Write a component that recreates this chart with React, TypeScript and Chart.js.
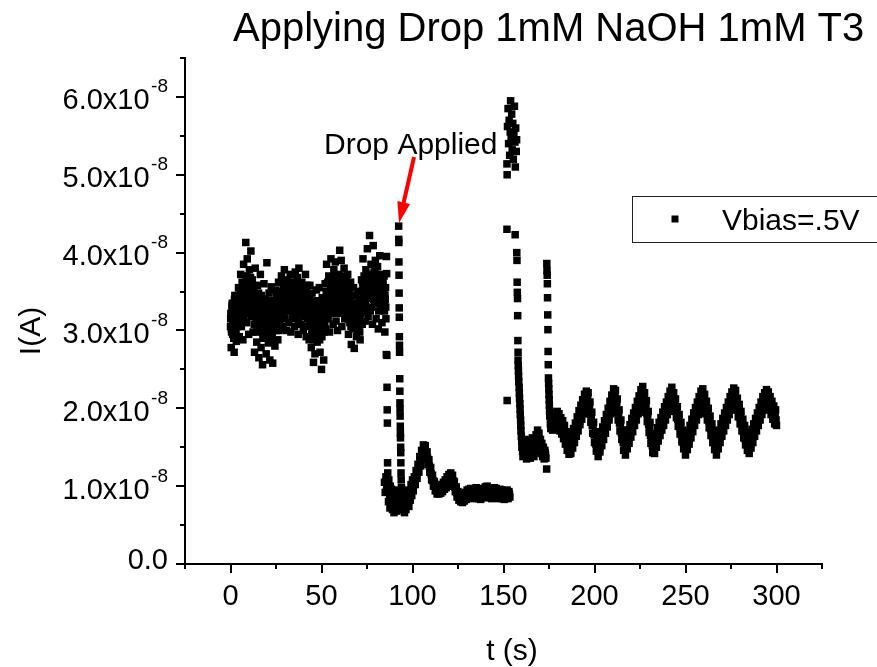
import React, { useEffect, useRef } from 'react';
import { Chart, registerables } from 'chart.js';

Chart.register(...registerables);

const TITLE = 'Applying Drop 1mM NaOH 1mM T3';
const X_TITLE = 't (s)';
const Y_TITLE = 'I(A)';
const LEGEND_LABEL = 'Vbias=.5V';
const ANNOTATION = 'Drop Applied';
const UNIT = 1e-8; // current values below are in units of 1e-8 A
const EXPONENT = '-8';
const FONT = '"Liberation Sans", Arial, Helvetica, sans-serif';

const xMajorTicks = [0, 50, 100, 150, 200, 250, 300];
const xMinorTicks = [-25, 25, 75, 125, 175, 225, 275, 325];
const yMajorTicks = [0, 1, 2, 3, 4, 5, 6];
const yMinorTicks = [0.5, 1.5, 2.5, 3.5, 4.5, 5.5, 6.5];

// [t (s), I (1e-8 A)]
const baseline: [number, number][] = [
  [0.0,3.05],[0.4,2.78],[0.8,3.32],[1.2,2.95],[1.6,3.18],[2.0,2.72],[2.4,3.45],[2.8,3.01],[3.2,2.86],[3.6,3.28],
  [4.0,3.12],[4.4,3.55],[4.8,2.92],[5.2,3.38],[5.6,3.72],[6.0,3.05],[6.4,3.62],[6.8,2.88],[7.2,3.85],[7.6,3.24],
  [8.0,3.48],[8.4,4.13],[8.8,3.10],[9.2,3.92],[9.6,3.33],[10.0,2.95],[10.4,3.78],[10.8,3.55],[11.2,4.02],[11.6,3.18],
  [12.0,3.65],[12.4,2.98],[12.8,3.42],[13.2,2.72],[13.6,3.80],[14.0,3.15],[14.4,2.85],[14.8,3.58],[15.2,3.30],[15.6,2.65],
  [16.0,3.05],[16.4,3.72],[16.8,2.78],[17.2,3.40],[17.6,2.56],[18.0,3.22],[18.4,3.60],[18.8,2.92],[19.2,3.35],[19.6,2.70],
  [20.0,3.87],[20.4,3.10],[20.8,2.84],[21.2,3.48],[21.6,2.62],[22.0,3.25],[22.4,3.56],[22.8,2.95],[23.2,2.58],[23.6,3.38],
  [24.0,3.15],[24.4,2.80],[24.8,3.52],[25.2,3.00],[25.6,3.30],[26.0,2.88],[26.4,3.62],[26.8,3.12],[27.2,3.45],[27.6,3.02],
  [28.0,3.70],[28.4,3.25],[28.8,3.05],[29.2,3.55],[29.6,3.78],[30.0,3.15],[30.4,3.42],[30.8,3.00],[31.2,3.65],[31.6,3.30],
  [32.0,3.10],[32.4,3.58],[32.8,3.72],[33.2,2.98],[33.6,3.35],[34.0,3.62],[34.4,3.20],[34.8,3.48],[35.2,3.05],[35.6,3.75],
  [36.0,3.40],[36.4,3.18],[36.8,3.68],[37.2,2.95],[37.6,3.80],[38.0,3.28],[38.4,3.52],[38.8,3.08],[39.2,3.62],[39.6,3.35],
  [40.0,3.00],[40.4,3.55],[40.8,3.25],[41.2,3.72],[41.6,2.92],[42.0,3.45],[42.4,3.15],[42.8,3.38],[43.2,2.88],[43.6,3.58],
  [44.0,3.22],[44.4,2.78],[44.8,3.48],[45.2,3.05],[45.6,2.59],[46.0,3.35],[46.4,2.70],[46.8,3.12],[47.2,3.52],[47.6,2.85],
  [48.0,3.30],[48.4,2.95],[48.8,3.55],[49.2,2.72],[49.6,3.18],[50.0,2.50],[50.4,3.42],[50.8,3.05],[51.2,2.62],[51.6,3.25],
  [52.0,3.60],[52.4,3.02],[52.8,3.85],[53.2,3.30],[53.6,3.15],[54.0,3.70],[54.4,2.98],[54.8,3.48],[55.2,3.92],[55.6,3.22],
  [56.0,3.55],[56.4,3.08],[56.8,3.78],[57.2,3.35],[57.6,3.88],[58.0,3.12],[58.4,3.62],[58.8,3.00],[59.2,3.45],[59.6,3.72],
  [60.0,4.03],[60.4,3.25],[60.8,3.90],[61.2,3.05],[61.6,3.58],[62.0,3.38],[62.4,3.80],[62.8,3.15],[63.2,3.50],[63.6,3.68],
  [64.0,3.20],[64.4,3.72],[64.8,2.95],[65.2,3.48],[65.6,3.10],[66.0,3.62],[66.4,2.82],[66.8,3.35],[67.2,3.02],[67.6,3.55],
  [68.0,2.77],[68.4,3.28],[68.8,3.45],[69.2,2.92],[69.6,3.15],[70.0,3.50],[70.4,3.00],[70.8,3.38],[71.2,2.88],[71.6,3.22],
  [72.0,3.65],[72.4,3.08],[72.8,3.92],[73.2,3.30],[73.6,3.55],[74.0,3.12],[74.4,3.78],[74.8,3.42],[75.2,4.05],[75.6,3.18],
  [76.0,3.62],[76.4,4.22],[76.8,3.25],[77.2,3.85],[77.6,3.48],[78.0,3.08],[78.4,4.09],[78.8,3.70],[79.2,3.35],[79.6,3.90],
  [80.0,3.15],[80.4,3.58],[80.8,3.82],[81.2,3.02],[81.6,3.45],[82.0,3.96],[82.4,3.28],[82.8,3.68],[83.2,3.10],[83.6,3.52],
  [84.0,3.38],[84.4,3.70],[84.8,2.98],[85.2,3.55],[85.6,2.69],
];

const baselineFill: [number, number][] = [
  [0.2,3.22],[0.6,2.98],[1.0,3.35],[1.4,3.10],[1.8,2.90],[2.2,3.40],[2.6,3.15],[3.0,2.95],[3.4,3.30],[3.8,3.05],
  [4.2,3.45],[4.6,3.18],[5.0,3.28],[5.4,3.50],[5.8,3.10],[6.2,3.40],[6.6,3.25],[7.0,3.55],[7.4,3.15],[7.8,3.42],
  [8.2,3.62],[8.6,3.30],[9.0,3.70],[9.4,3.40],[9.8,3.58],[10.2,3.22],[10.6,3.48],[11.0,3.68],[11.4,3.35],[11.8,3.52],
  [12.2,3.30],[12.6,3.52],[13.0,3.08],[13.4,3.25],[13.8,3.45],[14.2,2.98],[14.6,3.35],[15.0,3.12],[15.4,3.48],[15.8,3.02],
  [16.2,3.28],[16.6,3.00],[17.0,3.45],[17.4,3.12],[17.8,2.90],[18.2,3.30],[18.6,3.05],[19.0,3.40],[19.4,3.18],[19.8,2.95],
  [20.2,3.30],[20.6,2.98],[21.0,3.20],[21.4,3.38],[21.8,3.05],[22.2,2.88],[22.6,3.28],[23.0,3.12],[23.4,3.00],[23.8,3.22],
  [24.2,3.35],[24.6,3.08],[25.0,3.22],[25.4,3.45],[25.8,3.12],[26.2,3.38],[26.6,3.00],[27.0,3.28],[27.4,3.18],[27.8,3.40],
  [28.2,3.48],[28.6,3.32],[29.0,3.58],[29.4,3.20],[29.8,3.45],[30.2,3.62],[30.6,3.28],[31.0,3.52],[31.4,3.38],[31.8,3.50],
  [32.2,3.42],[32.6,3.25],[33.0,3.50],[33.4,3.30],[33.8,3.55],[34.2,3.15],[34.6,3.40],[35.0,3.62],[35.4,3.28],[35.8,3.45],
  [36.2,3.55],[36.6,3.25],[37.0,3.45],[37.4,3.10],[37.8,3.38],[38.2,3.60],[38.6,3.20],[39.0,3.42],[39.4,3.30],[39.8,3.50],
  [40.2,3.40],[40.6,3.18],[41.0,3.48],[41.4,3.05],[41.8,3.35],[42.2,3.58],[42.6,3.22],[43.0,3.45],[43.4,3.10],[43.8,3.32],
  [44.2,3.35],[44.6,2.95],[45.0,3.18],[45.4,3.28],[45.8,2.88],[46.2,3.12],[46.6,3.38],[47.0,2.98],[47.4,3.20],[47.8,3.05],
  [48.2,3.15],[48.6,3.38],[49.0,2.88],[49.4,3.05],[49.8,3.28],[50.2,2.92],[50.6,3.20],[51.0,3.35],[51.4,2.98],[51.8,3.10],
  [52.2,3.25],[52.6,3.50],[53.0,3.38],[53.4,3.62],[53.8,3.20],[54.2,3.45],[54.6,3.28],[55.0,3.58],[55.4,3.35],[55.8,3.48],
  [56.2,3.38],[56.6,3.62],[57.0,3.25],[57.4,3.50],[57.8,3.70],[58.2,3.32],[58.6,3.48],[59.0,3.22],[59.4,3.58],[59.8,3.40],
  [60.2,3.62],[60.6,3.42],[61.0,3.70],[61.4,3.28],[61.8,3.48],[62.2,3.65],[62.6,3.35],[63.0,3.55],[63.4,3.25],[63.8,3.45],
  [64.2,3.40],[64.6,3.15],[65.0,3.55],[65.4,3.28],[65.8,3.38],[66.2,3.05],[66.6,3.45],[67.0,3.22],[67.4,3.30],[67.8,3.12],
  [68.2,3.05],[68.6,3.22],[69.0,3.10],[69.4,3.35],[69.8,3.00],[70.2,3.25],[70.6,3.15],[71.0,2.98],[71.4,3.30],[71.8,3.08],
  [72.2,3.40],[72.6,3.62],[73.0,3.28],[73.4,3.70],[73.8,3.45],[74.2,3.35],[74.6,3.58],[75.0,3.25],[75.4,3.50],[75.8,3.65],
  [76.2,3.45],[76.6,3.72],[77.0,3.58],[77.4,3.30],[77.8,3.68],[78.2,3.50],[78.6,3.40],[79.0,3.62],[79.4,3.80],[79.8,3.52],
  [80.2,3.62],[80.6,3.35],[81.0,3.48],[81.4,3.25],[81.8,3.58],[82.2,3.40],[82.6,3.70],[83.0,3.30],[83.4,3.45],[83.8,3.62],
  [84.2,3.48],[84.6,3.25],[85.0,3.40],[85.4,3.15],
];

const baselineCore: [number, number][] = [
  [0.1,3.15],[0.5,3.02],[0.9,3.28],[1.3,3.10],[1.7,3.22],[2.1,2.98],[2.5,3.18],[2.9,3.30],[3.3,3.05],[3.7,3.20],
  [4.1,3.12],[4.5,3.30],[4.9,3.22],[5.3,3.08],[5.7,3.35],[6.1,3.20],[6.5,3.42],[6.9,3.28],[7.3,3.15],[7.7,3.45],
  [8.1,3.55],[8.5,3.38],[8.9,3.60],[9.3,3.45],[9.7,3.30],[10.1,3.52],[10.5,3.65],[10.9,3.40],[11.3,3.58],[11.7,3.35],
  [12.1,3.48],[12.5,3.30],[12.9,3.55],[13.3,3.38],[13.7,3.25],[14.1,3.45],[14.5,3.20],[14.9,3.40],[15.3,3.15],[15.7,3.32],
  [16.1,3.20],[16.5,3.05],[16.9,3.30],[17.3,2.98],[17.7,3.18],[18.1,3.08],[18.5,3.25],[18.9,3.00],[19.3,3.12],[19.7,3.22],
  [20.1,3.05],[20.5,3.20],[20.9,2.95],[21.3,3.15],[21.7,3.00],[22.1,3.22],[22.5,3.08],[22.9,2.98],[23.3,3.18],[23.7,3.10],
  [24.1,3.12],[24.5,3.25],[24.9,3.05],[25.3,3.18],[25.7,3.30],[26.1,3.08],[26.5,3.22],[26.9,3.35],[27.3,3.15],[27.7,3.28],
  [28.1,3.35],[28.5,3.50],[28.9,3.28],[29.3,3.42],[29.7,3.55],[30.1,3.30],[30.5,3.48],[30.9,3.38],[31.3,3.58],[31.7,3.32],
  [32.1,3.45],[32.5,3.30],[32.9,3.52],[33.3,3.38],[33.7,3.25],[34.1,3.48],[34.5,3.35],[34.9,3.55],[35.3,3.42],[35.7,3.28],
  [36.1,3.50],[36.5,3.32],[36.9,3.45],[37.3,3.58],[37.7,3.28],[38.1,3.40],[38.5,3.52],[38.9,3.35],[39.3,3.48],[39.7,3.25],
  [40.1,3.28],[40.5,3.42],[40.9,3.20],[41.3,3.38],[41.7,3.50],[42.1,3.25],[42.5,3.35],[42.9,3.18],[43.3,3.45],[43.7,3.30],
  [44.1,3.10],[44.5,3.25],[44.9,3.00],[45.3,3.18],[45.7,3.08],[46.1,3.28],[46.5,2.98],[46.9,3.15],[47.3,3.05],[47.7,3.22],
  [48.1,3.20],[48.5,3.02],[48.9,3.15],[49.3,3.25],[49.7,2.95],[50.1,3.10],[50.5,3.22],[50.9,3.05],[51.3,3.18],[51.7,3.28],
  [52.1,3.30],[52.5,3.42],[52.9,3.18],[53.3,3.35],[53.7,3.50],[54.1,3.28],[54.5,3.45],[54.9,3.38],[55.3,3.55],[55.7,3.40],
  [56.1,3.48],[56.5,3.60],[56.9,3.42],[57.3,3.55],[57.7,3.35],[58.1,3.62],[58.5,3.45],[58.9,3.58],[59.3,3.38],[59.7,3.52],
  [60.1,3.55],[60.5,3.40],[60.9,3.62],[61.3,3.48],[61.7,3.35],[62.1,3.58],[62.5,3.45],[62.9,3.65],[63.3,3.40],[63.7,3.52],
  [64.1,3.42],[64.5,3.30],[64.9,3.48],[65.3,3.25],[65.7,3.38],[66.1,3.20],[66.5,3.32],[66.9,3.15],[67.3,3.28],[67.7,3.10],
  [68.1,3.18],[68.5,3.08],[68.9,3.28],[69.3,3.12],[69.7,3.22],[70.1,3.05],[70.5,3.30],[70.9,3.15],[71.3,3.25],[71.7,3.35],
  [72.1,3.38],[72.5,3.52],[72.9,3.45],[73.3,3.60],[73.7,3.40],[74.1,3.55],[74.5,3.48],[74.9,3.65],[75.3,3.42],[75.7,3.58],
  [76.1,3.62],[76.5,3.48],[76.9,3.70],[77.3,3.55],[77.7,3.42],[78.1,3.65],[78.5,3.58],[78.9,3.75],[79.3,3.50],[79.7,3.68],
  [80.1,3.55],[80.5,3.42],[80.9,3.65],[81.3,3.50],[81.7,3.38],[82.1,3.60],[82.5,3.48],[82.9,3.72],[83.3,3.45],[83.7,3.58],
  [84.1,3.50],[84.5,3.35],[84.9,3.45],[85.3,3.30],
];

const dropFirstFall: [number, number][] = [
  [85.7,3.95],[85.8,3.73],[85.9,2.68],[86.0,2.27],[86.1,1.98],[86.2,1.81],[86.3,1.30],[86.4,1.17],
];

const dropFloor: [number, number][] = [
  [84.6,1.05],[85.0,0.92],[85.4,1.12],[86.6,0.98],[87.0,1.08],[87.4,0.85],[87.8,1.00],[88.2,0.76],[88.6,0.92],
  [89.0,0.70],[89.4,0.86],[89.8,0.66],[90.2,0.82],[90.6,0.72],[91.0,0.95],[91.4,0.68],[91.8,0.84],
  [85.8,1.00],[86.8,0.80],[87.2,0.95],[87.6,0.72],[88.0,0.88],[88.4,0.96],[88.8,0.80],[89.2,0.92],[89.6,0.78],
  [90.0,0.74],[90.4,0.90],[90.8,0.80],[91.2,0.76],[91.6,0.90],[92.0,0.75],[92.2,0.86],
];

const dropSpike: [number, number][] = [
  [92.4,4.34],[92.45,4.17],[92.5,4.13],[92.55,3.88],[92.6,3.71],[92.65,3.48],[92.7,3.29],[92.75,3.17],[92.8,2.92],
  [92.85,2.81],[92.9,2.72],[93.0,2.38],[93.05,2.22],[93.1,2.07],[93.15,1.99],[93.2,1.90],[93.3,1.77],[93.35,1.68],
  [93.4,1.62],[93.5,1.50],[93.55,1.43],[93.6,1.30],[93.7,1.17],[93.8,1.08],[93.9,0.98],[94.0,0.88],[94.1,0.78],[94.2,0.70],
];

const dropRecovery: [number, number][] = [
  [94.4,0.95],[94.8,0.72],[95.2,0.88],[95.6,0.66],[96.0,0.80],[96.4,0.70],[96.8,0.92],[97.2,0.76],[97.6,0.86],[98.0,0.74],
  [98.4,0.95],[98.8,0.82],[99.2,1.02],[99.6,0.88],[100.0,1.08],[100.4,0.94],
  [101.0,1.12],[101.5,1.02],[102.0,1.20],[102.5,1.10],[103.0,1.28],[103.5,1.18],[104.0,1.38],[104.5,1.26],[105.0,1.46],[105.5,1.35],
  [106.0,1.53],[106.5,1.40],[107.0,1.52],[107.5,1.36],[108.0,1.44],[108.5,1.28],[109.0,1.34],[109.5,1.18],[110.0,1.24],[110.5,1.08],
  [111.0,1.14],[111.5,1.00],[112.0,1.06],[112.5,0.94],[113.0,1.02],[113.5,0.90],[114.0,0.99],[114.5,0.90],[115.0,1.00],[115.5,0.91],
  [116.0,1.02],[116.5,0.93],[117.0,1.05],[117.5,0.96],[118.0,1.08],[118.5,0.98],[119.0,1.12],[119.5,1.00],[120.0,1.15],[120.5,1.03],
  [121.0,1.17],[121.5,1.05],[122.0,1.14],[122.5,1.00],[123.0,1.06],[123.5,0.93],[124.0,0.99],[124.5,0.86],[125.0,0.93],[125.5,0.82],
  [126.0,0.90],[126.5,0.80],[127.0,0.88],[127.5,0.79],[128.0,0.89],[128.5,0.81],[129.0,0.92],[129.5,0.83],[130.0,0.95],[130.5,0.85],
  [131.0,0.96],[131.5,0.86],[132.0,0.97],[132.5,0.85],[133.0,0.95],[133.5,0.84],[134.0,0.96],[134.5,0.87],[135.0,0.98],[135.5,0.86],
  [136.0,0.94],[136.5,0.84],[137.0,0.92],[137.5,0.83],[138.0,0.95],[138.5,0.85],[139.0,0.97],[139.5,0.87],[140.0,0.99],[140.5,0.88],
  [141.0,1.00],[141.5,0.88],[142.0,0.96],[142.5,0.85],[143.0,0.93],[143.5,0.84],[144.0,0.95],[144.5,0.86],[145.0,0.98],[145.5,0.87],
  [146.0,0.97],[146.5,0.85],[147.0,0.94],[147.5,0.84],[148.0,0.96],[148.5,0.86],[149.0,0.95],[149.5,0.84],[150.0,0.93],[150.5,0.83],
  [151.0,0.94],[151.5,0.85],[152.0,0.95],[152.5,0.84],[153.0,0.93],[153.5,0.86],
];

const recoveryFill: [number, number][] = [
  [94.6,0.82],[95.0,0.78],[95.4,0.74],[95.8,0.72],[96.2,0.76],[96.6,0.80],[97.0,0.82],[97.4,0.84],[97.8,0.80],[98.2,0.85],
  [98.6,0.88],[99.0,0.90],[99.4,0.95],[99.8,0.98],[100.2,1.00],[100.7,1.05],
  [101.25,1.07],[101.75,1.11],[102.25,1.15],[102.75,1.19],[103.25,1.23],[103.75,1.28],[104.25,1.32],[104.75,1.36],[105.25,1.40],[105.75,1.44],
  [106.25,1.47],[106.75,1.46],[107.25,1.44],[107.75,1.40],[108.25,1.36],[108.75,1.31],[109.25,1.26],[109.75,1.21],[110.25,1.16],[110.75,1.11],
  [111.25,1.07],[111.75,1.03],[112.25,1.00],[112.75,0.98],[113.25,0.96],[113.75,0.95],[114.25,0.94],[114.75,0.95],[115.25,0.96],[115.75,0.97],
  [116.25,0.98],[116.75,0.99],[117.25,1.01],[117.75,1.02],[118.25,1.03],[118.75,1.05],[119.25,1.06],[119.75,1.08],[120.25,1.09],[120.75,1.10],
  [121.25,1.11],[121.75,1.10],[122.25,1.07],[122.75,1.03],[123.25,0.99],[123.75,0.96],[124.25,0.92],[124.75,0.89],[125.25,0.87],[125.75,0.86],
  [126.25,0.85],[126.75,0.84],[127.25,0.84],[127.75,0.84],[128.25,0.85],[128.75,0.86],[129.25,0.87],[129.75,0.89],[130.25,0.90],[130.75,0.91],
  [131.25,0.91],[131.75,0.92],[132.25,0.91],[132.75,0.90],[133.25,0.90],[133.75,0.90],[134.25,0.91],[134.75,0.92],[135.25,0.92],[135.75,0.90],
  [136.25,0.89],[136.75,0.88],[137.25,0.88],[137.75,0.89],[138.25,0.90],[138.75,0.91],[139.25,0.92],[139.75,0.93],[140.25,0.94],[140.75,0.94],
  [141.25,0.94],[141.75,0.92],[142.25,0.90],[142.75,0.89],[143.25,0.88],[143.75,0.89],[144.25,0.90],[144.75,0.92],[145.25,0.93],[145.75,0.92],
  [146.25,0.91],[146.75,0.90],[147.25,0.89],[147.75,0.90],[148.25,0.91],[148.75,0.90],[149.25,0.90],[149.75,0.89],[150.25,0.88],[150.75,0.88],
  [151.25,0.89],[151.75,0.90],[152.25,0.90],[152.75,0.89],[153.25,0.90],
];

const secondSpikeTop: [number, number][] = [
  [151.9,5.14],[152.0,5.00],[152.2,5.62],[152.5,5.85],[152.8,5.40],[153.1,5.70],[153.4,5.25],[153.7,5.55],[153.9,5.95],
  [154.2,5.48],[154.5,5.78],[154.8,5.32],[155.1,5.66],[155.4,5.20],[155.7,5.52],[156.0,5.88],[156.3,5.42],[156.5,5.10],
  [156.7,5.60],[157.0,5.30],[157.2,5.45],
];

const secondSpikeFall: [number, number][] = [
  [151.9,4.30],[156.4,4.23],[152.0,2.10],
  [157.3,4.00],[157.4,3.90],[157.5,3.62],[157.6,3.49],[157.7,3.41],[157.8,3.19],[157.9,2.87],[158.0,2.72],
  [158.0,2.62],[158.1,2.55],[158.2,2.48],[158.3,2.41],[158.4,2.34],[158.6,2.27],[158.7,2.20],[158.8,2.13],[159.0,2.06],
  [159.1,1.99],[159.2,1.92],[159.4,1.85],[159.5,1.78],[159.6,1.71],[159.8,1.64],[160.0,1.57],[160.2,1.50],
];

const secondFloor: [number, number][] = [
  [160.3,1.50],[160.7,1.38],[161.1,1.55],[161.5,1.42],[161.9,1.60],[162.3,1.45],[162.7,1.35],[163.1,1.52],[163.5,1.40],
  [163.9,1.58],[164.3,1.44],[164.7,1.36],[165.1,1.55],[165.5,1.42],[165.9,1.62],[166.3,1.48],[166.7,1.38],[167.1,1.56],
  [167.5,1.45],[167.9,1.66],[168.3,1.50],[168.7,1.72],[169.1,1.55],[169.5,1.68],[169.9,1.48],[170.3,1.60],[170.7,1.42],
  [171.1,1.55],[171.5,1.38],[171.9,1.50],[172.3,1.35],[172.7,1.46],[173.1,1.40],[173.7,1.22],
  [160.5,1.45],[160.9,1.48],[161.3,1.50],[161.7,1.50],[162.1,1.52],[162.5,1.40],[162.9,1.44],[163.3,1.46],[163.7,1.48],
  [164.1,1.52],[164.5,1.40],[164.9,1.46],[165.3,1.48],[165.7,1.52],[166.1,1.55],[166.5,1.42],[166.9,1.47],[167.3,1.50],
  [167.7,1.55],[168.1,1.58],[168.5,1.62],[168.9,1.64],[169.3,1.62],[169.7,1.58],[170.1,1.54],[170.5,1.50],[170.9,1.48],
  [171.3,1.46],[171.7,1.44],[172.1,1.42],[172.5,1.40],[172.9,1.43],[173.3,1.36],
];

const thirdSpike: [number, number][] = [
  [173.8,3.86],[173.9,3.77],[174.0,3.71],[174.1,3.60],[174.2,3.42],[174.3,3.20],[174.4,3.01],[174.5,2.73],[174.6,2.56],
  [174.7,2.39],[174.8,2.32],[174.9,2.25],[175.0,2.18],[175.1,2.11],[175.2,2.04],[175.3,1.97],[175.4,1.90],
];

const oscillation: [number, number][] = [
  [175.5,1.95],[176.0,1.74],[176.5,1.90],[177.0,1.72],[177.5,1.92],[178.0,1.73],[178.5,1.94],[179.0,1.75],[179.5,1.96],[180.0,1.76],
  [180.5,1.93],[181.0,1.71],[181.5,1.88],[182.0,1.67],[182.5,1.84],[183.0,1.61],[183.5,1.78],[184.0,1.54],[184.5,1.70],[185.0,1.46],
  [185.5,1.63],[186.0,1.41],[186.5,1.60],[187.0,1.42],[187.5,1.66],[188.0,1.49],[188.5,1.74],[189.0,1.56],[189.5,1.81],[190.0,1.64],
  [190.5,1.89],[191.0,1.71],[191.5,1.97],[192.0,1.79],[192.5,2.04],[193.0,1.86],[193.5,2.11],[194.0,1.93],[194.5,2.18],[195.0,2.00],
  [195.5,2.22],[196.0,2.04],[196.5,2.20],[197.0,1.94],[197.5,2.08],[198.0,1.82],[198.5,1.95],[199.0,1.68],[199.5,1.82],[200.0,1.56],
  [200.5,1.70],[201.0,1.45],[201.5,1.61],[202.0,1.38],[202.5,1.60],[203.0,1.44],[203.5,1.68],[204.0,1.52],[204.5,1.76],[205.0,1.60],
  [205.5,1.84],[206.0,1.68],[206.5,1.92],[207.0,1.76],[207.5,2.00],[208.0,1.85],[208.5,2.09],[209.0,1.93],[209.5,2.17],[210.0,2.00],
  [210.5,2.25],[211.0,2.08],[211.5,2.23],[212.0,1.98],[212.5,2.12],[213.0,1.85],[213.5,1.98],[214.0,1.71],[214.5,1.85],[215.0,1.60],
  [215.5,1.72],[216.0,1.46],[216.5,1.62],[217.0,1.40],[217.5,1.63],[218.0,1.48],[218.5,1.72],[219.0,1.55],[219.5,1.79],[220.0,1.63],
  [220.5,1.87],[221.0,1.70],[221.5,1.94],[222.0,1.78],[222.5,2.01],[223.0,1.85],[223.5,2.09],[224.0,1.93],[224.5,2.16],[225.0,2.00],
  [225.5,2.24],[226.0,2.07],[226.5,2.28],[227.0,2.05],[227.5,2.20],[228.0,1.95],[228.5,2.10],[229.0,1.83],[229.5,1.96],[230.0,1.69],
  [230.5,1.82],[231.0,1.55],[231.5,1.68],[232.0,1.43],[232.5,1.60],[233.0,1.42],[233.5,1.66],[234.0,1.50],[234.5,1.75],[235.0,1.58],
  [235.5,1.82],[236.0,1.65],[236.5,1.88],[237.0,1.72],[237.5,1.95],[238.0,1.78],[238.5,2.02],[239.0,1.85],[239.5,2.08],[240.0,1.92],
  [240.5,2.15],[241.0,1.98],[241.5,2.22],[242.0,2.05],[242.5,2.27],[243.0,2.04],[243.5,2.20],[244.0,1.96],[244.5,2.12],[245.0,1.88],
  [245.5,2.02],[246.0,1.77],[246.5,1.92],[247.0,1.67],[247.5,1.82],[248.0,1.57],[248.5,1.72],[249.0,1.48],[249.5,1.63],[250.0,1.40],
  [250.5,1.63],[251.0,1.47],[251.5,1.70],[252.0,1.54],[252.5,1.78],[253.0,1.62],[253.5,1.86],[254.0,1.70],[254.5,1.94],[255.0,1.78],
  [255.5,2.01],[256.0,1.85],[256.5,2.08],[257.0,1.92],[257.5,2.15],[258.0,1.99],[258.5,2.22],[259.0,2.04],[259.5,2.25],[260.0,2.02],
  [260.5,2.18],[261.0,1.93],[261.5,2.09],[262.0,1.85],[262.5,2.00],[263.0,1.75],[263.5,1.90],[264.0,1.65],[264.5,1.80],[265.0,1.56],
  [265.5,1.71],[266.0,1.47],[266.5,1.63],[267.0,1.40],[267.5,1.64],[268.0,1.48],[268.5,1.72],[269.0,1.56],[269.5,1.80],[270.0,1.64],
  [270.5,1.87],[271.0,1.71],[271.5,1.94],[272.0,1.78],[272.5,2.01],[273.0,1.85],[273.5,2.08],[274.0,1.92],[274.5,2.15],[275.0,1.98],
  [275.5,2.21],[276.0,2.04],[276.5,2.26],[277.0,2.08],[277.5,2.23],[278.0,1.98],[278.5,2.13],[279.0,1.89],[279.5,2.05],[280.0,1.80],
  [280.5,1.96],[281.0,1.71],[281.5,1.86],[282.0,1.62],[282.5,1.78],[283.0,1.53],[283.5,1.69],[284.0,1.46],[284.5,1.63],[285.0,1.42],
  [285.5,1.65],[286.0,1.49],[286.5,1.73],[287.0,1.56],[287.5,1.80],[288.0,1.64],[288.5,1.87],[289.0,1.71],[289.5,1.94],[290.0,1.78],
  [290.5,2.01],[291.0,1.85],[291.5,2.08],[292.0,1.92],[292.5,2.15],[293.0,1.98],[293.5,2.20],[294.0,2.02],[294.5,2.24],[295.0,2.04],
  [295.5,2.21],[296.0,1.98],[296.5,2.15],[297.0,1.92],[297.5,2.09],[298.0,1.86],[298.5,2.03],[299.0,1.80],[299.5,1.98],[300.0,1.78],
];

const oscillationFill: [number, number][] = [
  [175.75,1.80],[176.25,1.88],[176.75,1.79],[177.25,1.86],[177.75,1.78],[178.25,1.87],[178.75,1.80],[179.25,1.88],[179.75,1.82],[180.25,1.87],
  [180.75,1.78],[181.25,1.84],[181.75,1.74],[182.25,1.79],[182.75,1.69],[183.25,1.73],[183.75,1.62],[184.25,1.66],[184.75,1.55],[185.25,1.58],
  [185.75,1.49],[186.25,1.54],[186.75,1.47],[187.25,1.57],[187.75,1.54],[188.25,1.64],[188.75,1.61],[189.25,1.71],[189.75,1.69],[190.25,1.79],
  [190.75,1.77],[191.25,1.87],[191.75,1.84],[192.25,1.94],[192.75,1.91],[193.25,2.01],[193.75,1.98],[194.25,2.08],[194.75,2.05],[195.25,2.14],
  [195.75,2.10],[196.25,2.15],[196.75,2.04],[197.25,2.04],[197.75,1.92],[198.25,1.91],[198.75,1.78],[199.25,1.78],[199.75,1.66],[200.25,1.66],
  [200.75,1.54],[201.25,1.56],[201.75,1.46],[202.25,1.52],[202.75,1.49],[203.25,1.59],[203.75,1.57],[204.25,1.67],[204.75,1.65],[205.25,1.75],
  [205.75,1.73],[206.25,1.83],[206.75,1.81],[207.25,1.91],[207.75,1.89],[208.25,2.00],[208.75,1.98],[209.25,2.08],[209.75,2.05],[210.25,2.16],
  [210.75,2.13],[211.25,2.19],[211.75,2.07],[212.25,2.08],[212.75,1.95],[213.25,1.94],[213.75,1.81],[214.25,1.81],[214.75,1.69],[215.25,1.69],
  [215.75,1.56],[216.25,1.57],[216.75,1.48],[217.25,1.55],[217.75,1.52],[218.25,1.63],[218.75,1.60],[219.25,1.70],[219.75,1.68],[220.25,1.78],
  [220.75,1.75],[221.25,1.85],[221.75,1.83],[222.25,1.92],[222.75,1.90],[223.25,2.00],[223.75,1.98],[224.25,2.07],[224.75,2.05],[225.25,2.15],
  [225.75,2.12],[226.25,2.21],[226.75,2.14],[227.25,2.15],[227.75,2.04],[228.25,2.05],[228.75,1.93],[229.25,1.92],[229.75,1.79],[230.25,1.78],
  [230.75,1.65],[231.25,1.64],[231.75,1.52],[232.25,1.54],[232.75,1.48],[233.25,1.57],[233.75,1.55],[234.25,1.65],[234.75,1.63],[235.25,1.73],
  [235.75,1.70],[236.25,1.79],[236.75,1.77],[237.25,1.86],[237.75,1.83],[238.25,1.93],[238.75,1.90],[239.25,2.00],[239.75,1.97],[240.25,2.07],
  [240.75,2.03],[241.25,2.13],[241.75,2.10],[242.25,2.19],[242.75,2.13],[243.25,2.15],[243.75,2.05],[244.25,2.07],[244.75,1.97],[245.25,1.98],
  [245.75,1.86],[246.25,1.87],[246.75,1.76],[247.25,1.77],[247.75,1.66],[248.25,1.67],[248.75,1.56],[249.25,1.58],[249.75,1.49],[250.25,1.54],
  [250.75,1.52],[251.25,1.61],[251.75,1.59],[252.25,1.69],[252.75,1.67],[253.25,1.77],[253.75,1.75],[254.25,1.85],[254.75,1.83],[255.25,1.92],
  [255.75,1.90],[256.25,1.99],[256.75,1.97],[257.25,2.06],[257.75,2.04],[258.25,2.13],[258.75,2.10],[259.25,2.17],[259.75,2.11],[260.25,2.13],
  [260.75,2.02],[261.25,2.04],[261.75,1.94],[262.25,1.95],[262.75,1.84],[263.25,1.85],[263.75,1.74],[264.25,1.75],[264.75,1.65],[265.25,1.66],
  [265.75,1.56],[266.25,1.58],[266.75,1.49],[267.25,1.55],[267.75,1.53],[268.25,1.63],[268.75,1.61],[269.25,1.71],[269.75,1.69],[270.25,1.78],
  [270.75,1.76],[271.25,1.85],[271.75,1.83],[272.25,1.92],[272.75,1.90],[273.25,2.00],[273.75,1.97],[274.25,2.06],[274.75,2.03],[275.25,2.12],
  [275.75,2.09],[276.25,2.18],[276.75,2.14],[277.25,2.18],[277.75,2.08],[278.25,2.09],[278.75,1.98],[279.25,2.00],[279.75,1.89],[280.25,1.91],
  [280.75,1.80],[281.25,1.81],[281.75,1.70],[282.25,1.72],[282.75,1.61],[283.25,1.63],[283.75,1.54],[284.25,1.57],[284.75,1.50],[285.25,1.56],
  [285.75,1.54],[286.25,1.64],[286.75,1.61],[287.25,1.71],[287.75,1.68],[288.25,1.78],[288.75,1.75],[289.25,1.85],[289.75,1.83],[290.25,1.92],
  [290.75,1.90],[291.25,2.00],[291.75,1.97],[292.25,2.06],[292.75,2.03],[293.25,2.12],[293.75,2.08],[294.25,2.16],[294.75,2.11],[295.25,2.15],
  [295.75,2.06],[296.25,2.09],[296.75,2.00],[297.25,2.03],[297.75,1.94],[298.25,1.97],[298.75,1.88],[299.25,1.92],[299.75,1.85],
];

// annotation arrow tip, in data coordinates (t, I/1e-8)
const ARROW_TIP: [number, number] = [92.6, 4.38];

const overlay = {
  id: 'originOverlay',
  afterDraw(chart: any) {
    const { ctx, chartArea: a } = chart;
    const xs = chart.scales.x;
    const ys = chart.scales.y;
    ctx.save();
    ctx.strokeStyle = '#000';
    ctx.fillStyle = '#000';
    ctx.lineWidth = 2;

    // tick marks (outward)
    ctx.beginPath();
    xMajorTicks.forEach((t) => {
      const px = Math.round(xs.getPixelForValue(t));
      ctx.moveTo(px, a.bottom); ctx.lineTo(px, a.bottom + 9);
    });
    xMinorTicks.forEach((t) => {
      const px = Math.round(xs.getPixelForValue(t));
      ctx.moveTo(px, a.bottom); ctx.lineTo(px, a.bottom + 5);
    });
    yMajorTicks.forEach((v) => {
      const py = Math.round(ys.getPixelForValue(v * UNIT));
      ctx.moveTo(a.left, py); ctx.lineTo(a.left - 9, py);
    });
    yMinorTicks.forEach((v) => {
      const py = Math.round(ys.getPixelForValue(v * UNIT));
      ctx.moveTo(a.left, py); ctx.lineTo(a.left - 5, py);
    });
    ctx.stroke();

    // x tick labels
    ctx.textBaseline = 'alphabetic';
    ctx.font = `29px ${FONT}`;
    ctx.textAlign = 'center';
    xMajorTicks.forEach((t) => {
      ctx.fillText(String(t), xs.getPixelForValue(t), a.bottom + 41);
    });

    // y tick labels with superscript exponent
    const right = a.left - 17;
    yMajorTicks.forEach((v) => {
      const py = ys.getPixelForValue(v * UNIT);
      ctx.textAlign = 'right';
      if (v === 0) {
        ctx.font = `29px ${FONT}`;
        ctx.fillText('0.0', right, py + 5);
        return;
      }
      ctx.font = `19px ${FONT}`;
      const supW = ctx.measureText(EXPONENT).width;
      ctx.fillText(EXPONENT, right, py - 4.5);
      ctx.font = `29px ${FONT}`;
      ctx.fillText(v.toFixed(1) + 'x10', right - supW - 1.5, py + 12.5);
    });

    // axis titles
    ctx.font = `30px ${FONT}`;
    ctx.textAlign = 'center';
    ctx.fillText(X_TITLE, 512, 660);
    ctx.save();
    ctx.translate(40, 331);
    ctx.rotate(-Math.PI / 2);
    ctx.fillText(Y_TITLE, 0, 0);
    ctx.restore();

    // chart title
    ctx.font = `40px ${FONT}`;
    ctx.textAlign = 'left';
    ctx.fillText(TITLE, 233, 41);

    // legend
    ctx.lineWidth = 1;
    ctx.strokeStyle = '#222';
    ctx.strokeRect(632.5, 196.5, 300, 46);
    ctx.fillRect(671.5, 215.5, 7, 7);
    ctx.font = `30px ${FONT}`;
    ctx.textAlign = 'left';
    ctx.fillText(LEGEND_LABEL, 722, 230);

    // annotation + arrow
    const tipX = xs.getPixelForValue(ARROW_TIP[0]);
    const tipY = ys.getPixelForValue(ARROW_TIP[1] * UNIT);
    ctx.fillText(ANNOTATION, tipX - 75, tipY - 69);
    const tailX = tipX + 15;
    const tailY = tipY - 66;
    const dx = tipX - tailX, dy = tipY - tailY;
    const len = Math.hypot(dx, dy);
    const ux = dx / len, uy = dy / len;
    const headLen = 21, headHalf = 6.5;
    const bx = tipX - ux * headLen, by = tipY - uy * headLen;
    ctx.strokeStyle = '#ff0000';
    ctx.fillStyle = '#ff0000';
    ctx.lineWidth = 4;
    ctx.lineCap = 'butt';
    ctx.beginPath();
    ctx.moveTo(tailX, tailY);
    ctx.lineTo(bx + ux * 2, by + uy * 2);
    ctx.stroke();
    ctx.beginPath();
    ctx.moveTo(tipX, tipY);
    ctx.lineTo(bx - uy * headHalf, by + ux * headHalf);
    ctx.lineTo(bx + uy * headHalf, by - ux * headHalf);
    ctx.closePath();
    ctx.fill();

    ctx.restore();
  },
};

export default function App() {
  const canvasRef = useRef<HTMLCanvasElement | null>(null);

  useEffect(() => {
    document.body.style.margin = '0';
    document.body.style.overflow = 'hidden';
    const canvas = canvasRef.current;
    if (!canvas) return;
    const all = [
      ...baseline, ...baselineFill, ...baselineCore, ...dropFirstFall, ...dropFloor, ...dropSpike, ...dropRecovery, ...recoveryFill,
      ...secondSpikeTop, ...secondSpikeFall, ...secondFloor, ...thirdSpike, ...oscillation, ...oscillationFill,
    ];
    const points = all.map(([t, v]) => ({ x: t, y: v * UNIT }));
    const chart = new Chart(canvas, {
      type: 'scatter',
      data: {
        datasets: [
          {
            label: LEGEND_LABEL,
            data: points,
            pointStyle: 'rect',
            pointRadius: 5.3,
            pointHoverRadius: 5.3,
            backgroundColor: '#000',
            borderColor: '#000',
            borderWidth: 0,
          },
        ],
      },
      options: {
        animation: false,
        responsive: false,
        events: [],
        layout: { padding: { top: 58, right: 55, left: 0, bottom: 0 } },
        plugins: {
          legend: { display: false },
          title: { display: false },
          tooltip: { enabled: false },
        },
        scales: {
          x: {
            type: 'linear',
            min: -25,
            max: 325,
            grid: { display: false },
            border: { display: true, color: '#000', width: 2 },
            ticks: { display: false },
            afterFit: (s: any) => { s.height = 103; },
          },
          y: {
            type: 'linear',
            min: 0,
            max: 6.5 * UNIT,
            grid: { display: false },
            border: { display: true, color: '#000', width: 2 },
            ticks: { display: false },
            afterFit: (s: any) => { s.width = 185; },
          },
        },
      },
      plugins: [overlay],
    });
    return () => chart.destroy();
  }, []);

  return <canvas ref={canvasRef} width={877} height={667} style={{ display: 'block' }} />;
}
